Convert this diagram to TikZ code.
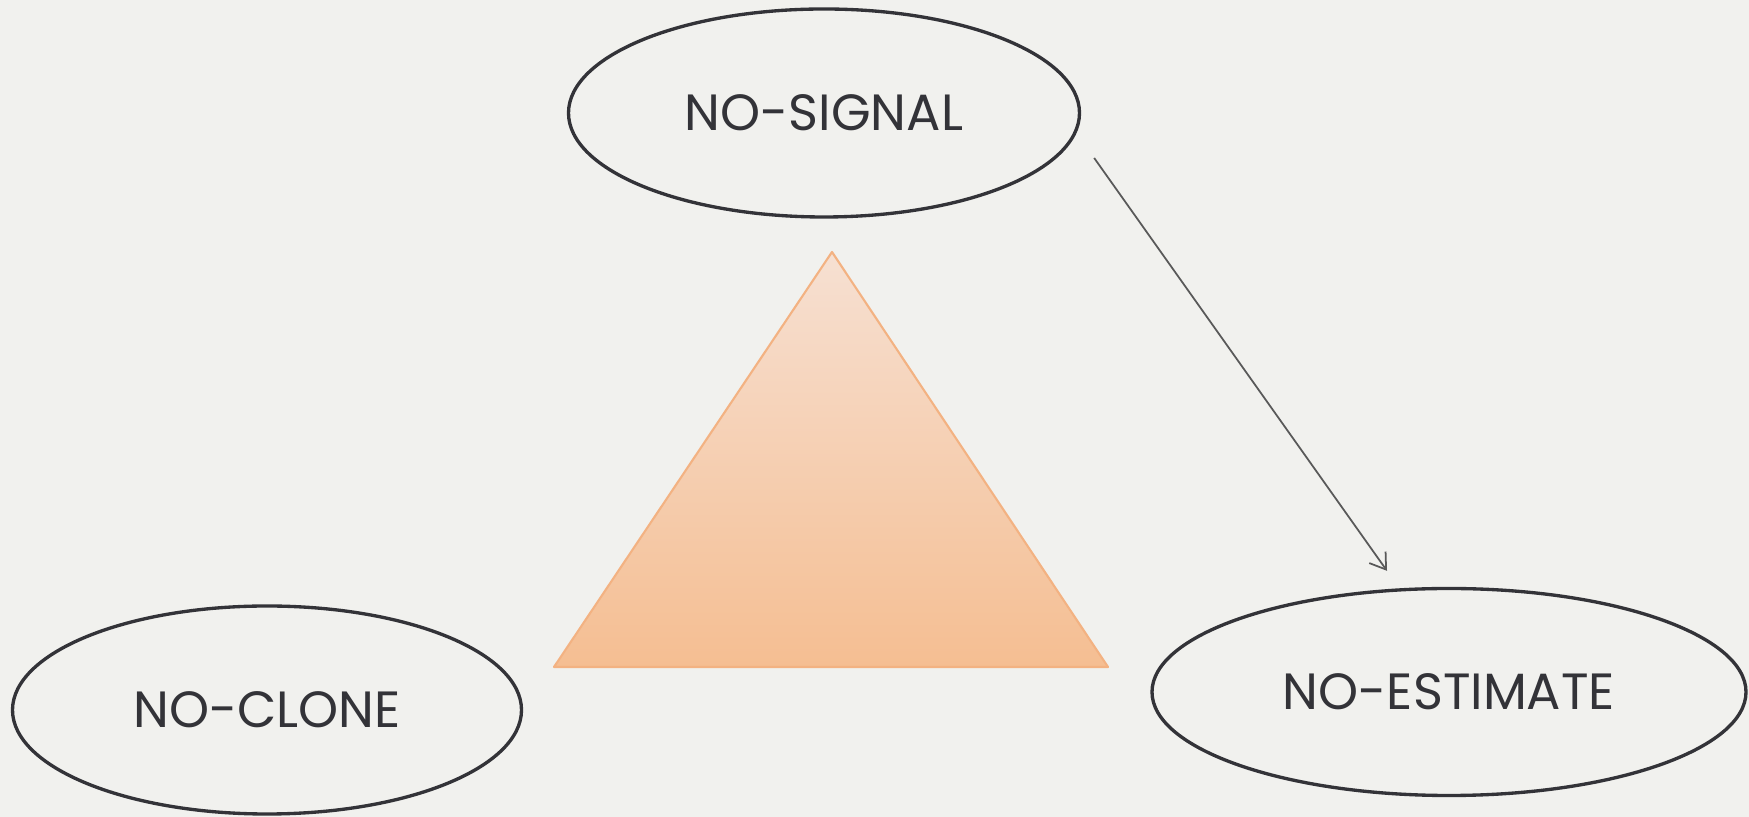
\documentclass[tikz,border=0pt]{standalone}
\usepackage{fontspec}
\setmainfont{Poppins}
\usetikzlibrary{shapes.geometric,arrows.meta}
\definecolor{paper}{RGB}{241,241,238}
\definecolor{ink}{RGB}{51,51,56}
\definecolor{pyrtop}{RGB}{246,224,210}
\definecolor{pyrbot}{RGB}{245,190,146}
\definecolor{pyredge}{RGB}{243,178,130}
\begin{document}
\begin{tikzpicture}[line join=round]
	\def \toprow{14.08cm}
	\tikzstyle{no-node}=[ellipse,draw=ink,line width=1.9pt,text=ink,inner sep=0pt,font=\fontsize{29}{34}\selectfont]
	\tikzstyle{arr}=[draw=black!65,line width=1pt,-{Straight Barb[length=3mm,width=4mm]}]
	% background
	\fill[paper] (0,0) rectangle (34.98,16.34);
	\useasboundingbox (0,0) rectangle (34.98,16.34);

	% pyramid
	\coordinate (apex) at (16.64,11.30);
	\coordinate (base-l) at (11.08,3.00);
	\coordinate (base-r) at (22.16,3.00);
	\shade[top color=pyrtop,bottom color=pyrbot] (apex) -- (base-l) -- (base-r) -- cycle;
	\draw[pyredge,line width=1.2pt] (apex) -- (base-l) -- (base-r) -- cycle;

	% three ellipses
	\node[no-node,minimum width=10.22cm,minimum height=4.16cm] (sig) at (16.48cm,\toprow) {NO-SIGNAL};
	\node[no-node,minimum width=10.18cm,minimum height=4.16cm] (clone) at (5.34cm,2.14cm) {NO-CLONE};
	\node[no-node,minimum width=11.88cm,minimum height=4.14cm] (est) at (28.98cm,2.50cm) {NO-ESTIMATE};

	% arrow
	\coordinate (a-from) at ([shift={(0.26,-0.90)}]sig.east);
	\coordinate (a-to) at ([shift={(-1.24,0.32)}]est.north);
	\path (a-from) edge[arr] (a-to);
\end{tikzpicture}
\end{document}
